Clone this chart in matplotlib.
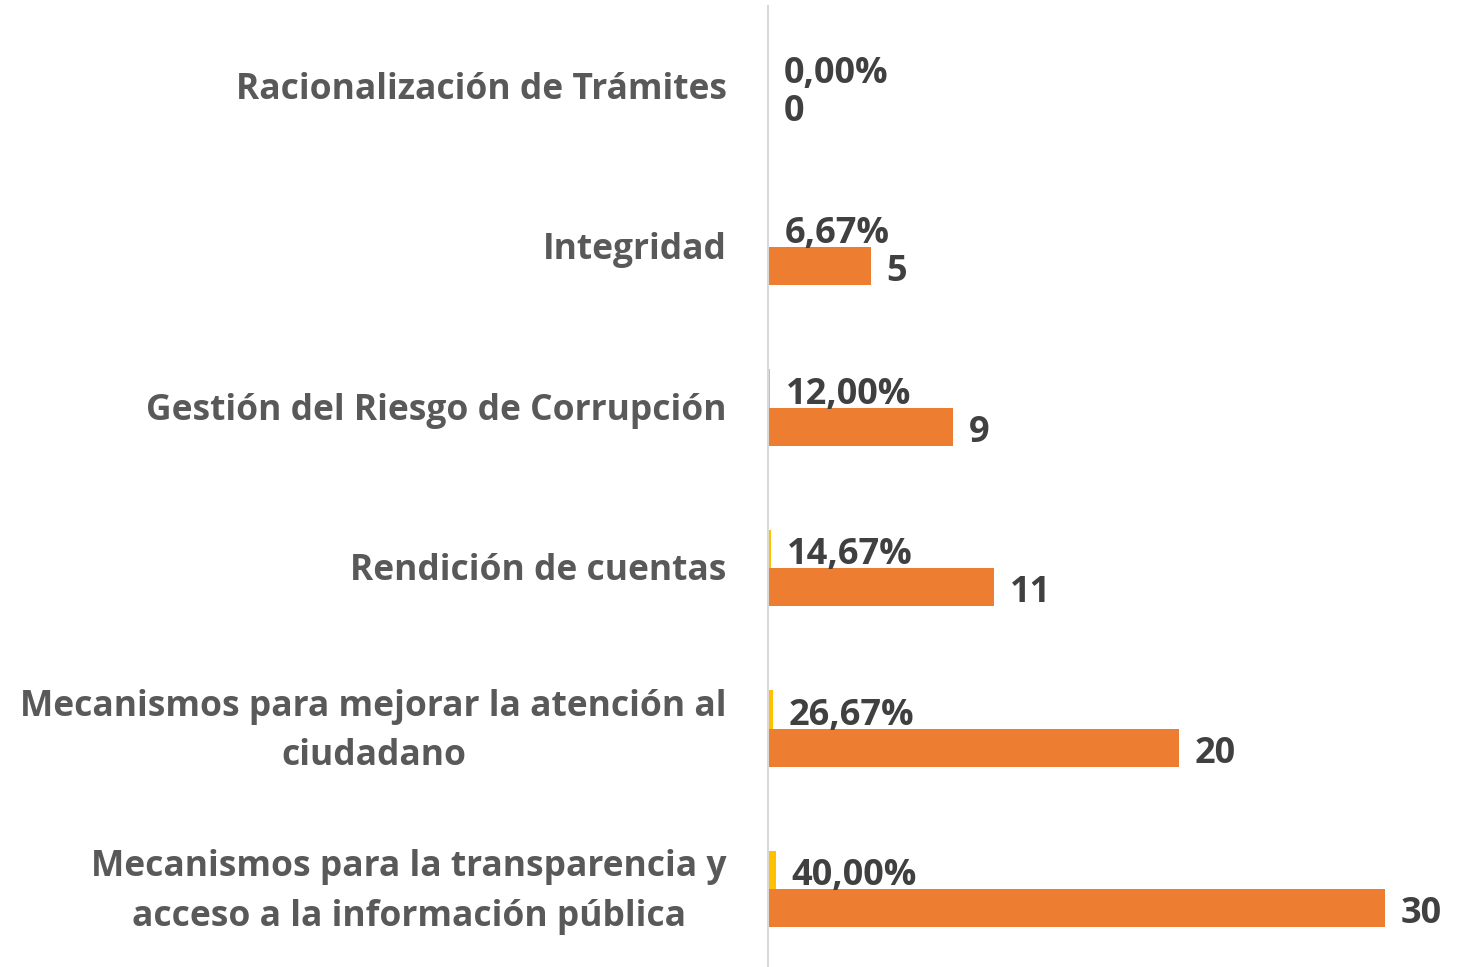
import matplotlib
matplotlib.use("Agg")
import matplotlib.pyplot as plt
import numpy as np

categories = [
    "Racionalización de Trámites",
    "Integridad",
    "Gestión del Riesgo de Corrupción",
    "Rendición de cuentas",
    "Mecanismos para mejorar la atención al\nciudadano",
    "Mecanismos para la transparencia y\nacceso a la información pública",
]
counts = [0, 5, 9, 11, 20, 30]
shares = [0.0, 0.0667, 0.12, 0.1467, 0.2667, 0.40]
share_labels = ["0,00%", "6,67%", "12,00%", "14,67%", "26,67%", "40,00%"]

orange = "#ED7D31"
yellow = "#FFC000"
label_color = "#595959"
value_color = "#404040"

plt.rcParams["font.family"] = ["Open Sans", "DejaVu Sans"]

figure = plt.figure(figsize=(14.73, 9.67), dpi=100)
axis = figure.add_axes([768 / 1473, -2.25 / 967, 1 - 768 / 1473, 963 / 967])

y = np.arange(len(categories))
height = 0.237
# push text down a little so the glyphs sit centred on the bars
nudge = 0.02
value_nudge = 0.04

axis.barh(y - height / 2, shares, height=height, color=yellow)
axis.barh(y + height / 2, counts, height=height, color=orange)

axis.set_xlim(0, 34.27)
axis.set_ylim(len(categories) - 0.5, -0.5)

for i in range(len(categories)):
    axis.text(
        -2.0, y[i] + nudge, categories[i], ha="right", va="center",
        multialignment="center", fontsize=25.5, fontweight="bold",
        color=label_color, linespacing=1.5,
    )
    axis.text(
        shares[i] + 0.75, y[i] - height / 2 + value_nudge, share_labels[i],
        ha="left", va="center", fontsize=26, fontweight="bold", color=value_color,
    )
    axis.text(
        counts[i] + 0.75, y[i] + height / 2 + value_nudge, str(counts[i]),
        ha="left", va="center", fontsize=26, fontweight="bold", color=value_color,
    )

axis.set_xticks([])
axis.set_yticks([])
for side in ["top", "right", "bottom"]:
    axis.spines[side].set_visible(False)
axis.spines["left"].set_color("#D9D9D9")
axis.spines["left"].set_linewidth(1.5)
axis.patch.set_alpha(0)

figure.savefig("out.png", dpi=100)
